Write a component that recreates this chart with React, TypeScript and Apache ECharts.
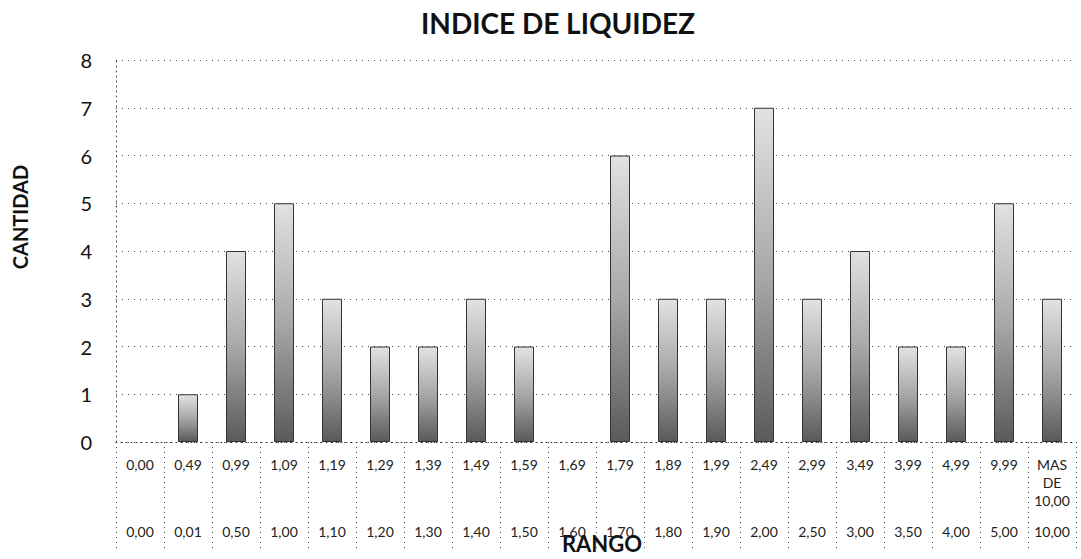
import React, { useEffect, useRef } from "react";
import * as echarts from "echarts";

const TITLE = "INDICE DE LIQUIDEZ";
const Y_NAME = "CANTIDAD";
const X_NAME = "RANGO";
const upperLabels = ["0,00", "0,49", "0,99", "1,09", "1,19", "1,29", "1,39", "1,49", "1,59", "1,69", "1,79", "1,89", "1,99", "2,49", "2,99", "3,49", "3,99", "4,99", "9,99", "MAS\nDE\n10,00"];
const lowerLabels = ["0,00", "0,01", "0,50", "1,00", "1,10", "1,20", "1,30", "1,40", "1,50", "1,60", "1,70", "1,80", "1,90", "2,00", "2,50", "3,00", "3,50", "4,00", "5,00", "10,00"];
const counts = [0, 1, 4, 5, 3, 2, 2, 3, 2, 0, 6, 3, 3, 7, 3, 4, 2, 2, 5, 3];
const yTicks = [0, 1, 2, 3, 4, 5, 6, 7, 8];

const FONT = "Lato, 'Open Sans', sans-serif";

export default function App() {
  const ref = useRef<HTMLDivElement>(null);
  useEffect(() => {
    if (!ref.current) return;
    const chart = echarts.init(ref.current, undefined, { renderer: "svg" });
    const barFill = new echarts.graphic.LinearGradient(0, 0, 0, 1, [
      { offset: 0, color: "#e2e2e2" },
      { offset: 0.5, color: "#a8a8a8" },
      { offset: 1, color: "#5a5a5a" },
    ]);
    chart.setOption({
      animation: false,
      backgroundColor: "#ffffff",
      textStyle: { fontFamily: FONT },
      graphic: [
        {
          type: "text",
          x: 558,
          y: 23,
          style: {
            text: TITLE,
            fontFamily: FONT,
            fontSize: 28,
            fontWeight: "bold",
            fill: "#111",
            align: "center",
            verticalAlign: "middle",
          },
        },
        {
          type: "text",
          x: 20,
          y: 217,
          rotation: Math.PI / 2,
          style: {
            text: Y_NAME,
            fontFamily: FONT,
            fontSize: 20,
            fontWeight: "bold",
            fill: "#111",
            align: "center",
            verticalAlign: "middle",
          },
        },
      ],
      grid: { left: 116, right: 5, top: 60, bottom: 113, containLabel: false },
      xAxis: [
        {
          type: "category",
          data: upperLabels,
          position: "bottom",
          name: X_NAME,
          nameLocation: "middle",
          nameGap: 90,
          nameTextStyle: { fontFamily: FONT, fontSize: 22, fontWeight: "bold", color: "#111", padding: [0, 0, 0, 12] },
          axisLine: { show: true, lineStyle: { color: "#333", type: [1, 4], width: 1 } },
          axisTick: { show: true, length: 108, lineStyle: { color: "#444", type: [1, 4], width: 1 } },
          axisLabel: {
            margin: 13,
            fontSize: 14,
            color: "#222",
            lineHeight: 18,
            verticalAlign: "top",
            interval: 0,
          },
          splitLine: { show: false },
        },
        {
          type: "category",
          data: lowerLabels,
          position: "bottom",
          axisLine: { show: false },
          axisTick: { show: false },
          axisLabel: { margin: 82, fontSize: 14, color: "#222", verticalAlign: "top", interval: 0 },
          splitLine: { show: false },
        },
      ],
      yAxis: {
        type: "value",
        min: yTicks[0],
        max: yTicks[yTicks.length - 1],
        interval: 1,
        axisLine: { show: true, lineStyle: { color: "#444", type: [1, 4], width: 1 } },
        axisTick: { show: false },
        axisLabel: { margin: 24, fontSize: 20, color: "#111" },
        splitLine: { show: true, lineStyle: { color: "#444", type: [1, 5], width: 1 } },
      },
      series: [
        {
          type: "bar",
          xAxisIndex: 0,
          data: counts.map((v) => ({
            value: v,
            itemStyle: v === 0 ? { borderWidth: 0 } : undefined,
          })),
          barWidth: 20,
          itemStyle: {
            color: barFill,
            borderColor: "#333",
            borderWidth: 1,
          },
        },
      ],
    });
    return () => chart.dispose();
  }, []);
  return <div ref={ref} style={{ width: 1081, height: 559, position: "absolute", left: 0, top: 0 }} />;
}
